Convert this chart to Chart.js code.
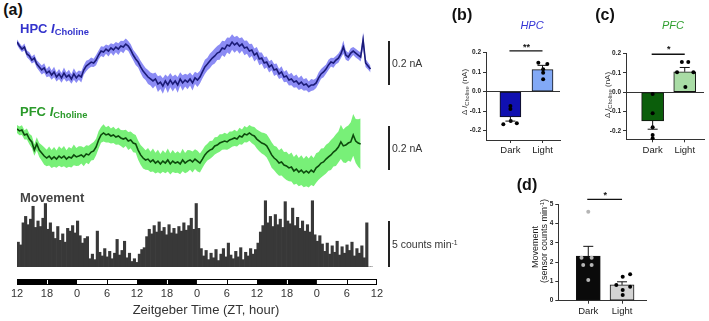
<!DOCTYPE html>
<html><head><meta charset="utf-8">
<script src="https://cdn.jsdelivr.net/npm/chart.js@4/dist/chart.umd.min.js"></script>
<style>
html,body{margin:0;padding:0;background:#fff;}
body{width:709px;height:321px;position:relative;overflow:hidden;font-family:"Liberation Sans",Arial,sans-serif;color:#222;}
canvas{position:absolute;}
.t{position:absolute;white-space:nowrap;line-height:1;}
.c{transform:translate(-50%,-50%);}
.l{transform:translateY(-50%);}
.r{transform:translate(-50%,-50%) rotate(-90deg);}
.pl{font-weight:bold;font-size:16px;color:#111;}
sub{font-size:0.72em;vertical-align:-0.25em;}
sup{font-size:0.65em;vertical-align:0.45em;}
</style></head><body>
<canvas id="hpc" width="383" height="85" style="left:17px;top:20px"></canvas>
<canvas id="pfc" width="383" height="95" style="left:17px;top:105px"></canvas>
<canvas id="mov" width="383" height="72" style="left:17px;top:195px"></canvas>
<canvas id="ld" width="380" height="20" style="left:5px;top:279px"></canvas>
<canvas id="pb" width="125" height="132" style="left:440px;top:30px"></canvas>
<canvas id="pc" width="133" height="132" style="left:575px;top:30px"></canvas>
<canvas id="pd" width="145" height="141" style="left:505px;top:180px"></canvas>

<div class="t pl c" style="left:13px;top:10px">(a)</div>
<div class="t l" style="left:20px;top:30px;color:#3333cc;font-weight:bold;font-size:13px">HPC <i>I</i><sub>Choline</sub></div>
<div class="t l" style="left:20px;top:113px;color:#2a9a2a;font-weight:bold;font-size:13px">PFC <i>I</i><sub>Choline</sub></div>
<div class="t l" style="left:20px;top:197px;color:#444;font-weight:bold;font-size:13px">Movement</div>
<div class="t l" style="left:392px;top:63px;font-size:10.5px;color:#333">0.2 nA</div>
<div class="t l" style="left:392px;top:148px;font-size:10.5px;color:#333">0.2 nA</div>
<div class="t l" style="left:392px;top:244px;font-size:10.5px;color:#333">5 counts min<sup>-1</sup></div>
<div class="t c" style="left:206px;top:309px;font-size:13px;color:#333">Zeitgeber Time (ZT, hour)</div>

<div class="t pl c" style="left:462px;top:15px">(b)</div>
<div class="t c" style="left:532px;top:25px;font-style:italic;font-size:11px;color:#3535d5">HPC</div>
<div class="t r" style="left:466px;top:92px;font-size:8px;color:#333">&Delta; <i>I</i><sub>Choline</sub> (nA)</div>
<div class="t pl c" style="left:605px;top:15px">(c)</div>
<div class="t c" style="left:673px;top:25px;font-style:italic;font-size:11px;color:#2e9e2e">PFC</div>
<div class="t r" style="left:609px;top:95px;font-size:8px;color:#333">&Delta; <i>I</i><sub>Choline</sub> (nA)</div>
<div class="t pl c" style="left:527px;top:185px">(d)</div>
<div class="t r" style="left:535px;top:247px;font-size:9px;color:#222">Movement</div>
<div class="t r" style="left:544px;top:241px;font-size:9px;color:#222">(sensor counts min<sup>-1</sup>)</div>

<script>
// ================= DATA =================
const sampleStepH = 0.5;                 // hours between trace samples
const ztTickLabels = ['12','18','0','6','12','18','0','6','12','18','0','6','12'];
const ldPhases = ['dark','dark','light','light','dark','dark','light','light','dark','dark','light','light'];
const ldSegmentHours = [6,6,6,6,6,6,6,6,6,6,6,6];

// HPC choline current (nA, relative), mean and SEM every 0.5 h
const hpcMean = [
.218,.200,.186,.195,.164,.155,.136,.145,.118,.105,
.091,.100,.077,.086,.068,.082,.059,.073,.055,.077,
.059,.068,.050,.073,.055,.068,.059,.091,.109,.118,
.127,.123,.136,.159,.177,.173,.186,.177,.191,.182,
.195,.186,.200,.195,.209,.200,.182,.159,.141,.127,
.105,.086,.073,.059,.050,.041,.050,.027,.036,.018,
.041,.023,.045,.027,.041,.023,.050,.032,.045,.036,
.050,.032,.055,.045,.059,.082,.105,.118,.132,.145,
.155,.168,.173,.191,.186,.205,.200,.218,.205,.214,
.200,.209,.191,.195,.177,.182,.159,.168,.141,.145,
.123,.127,.105,.114,.091,.095,.073,.082,.059,.064,
.045,.050,.036,.041,.027,.036,.023,.027,.014,.023,
.023,.032,.055,.073,.082,.095,.114,.127,.123,.136,
.145,.164,.195,.159,.150,.168,.177,.168,.159,.150,
.227,.123,.109,.095];
const hpcSem = [
.012,.014,.013,.016,.015,.017,.016,.018,.017,.019,
.020,.022,.019,.023,.021,.024,.020,.023,.022,.025,.021,.024,.022,.026,.023,.021,.025,.022,.024,.020,
.021,.019,.023,.020,.022,.024,.021,.025,.022,.026,.023,.027,.024,.028,.025,.023,.026,.024,.027,.025,
.028,.030,.027,.032,.029,.034,.030,.036,.031,.035,.029,.037,.032,.034,.030,.036,.031,.035,.029,.033,.030,.034,.028,.031,.029,
.030,.032,.029,.033,.031,.034,.032,.035,.033,.036,.034,.037,.035,.036,.033,.035,.031,.033,.030,.032,.028,.030,.027,.029,.026,
.027,.025,.026,.024,.027,.025,.023,.026,.024,.027,.025,.028,.026,.029,.027,.030,.026,.028,.025,.027,.024,.023,.025,.022,.024,
.021,.023,.020,.022,.019,.021,.020,.030,.021,.019,.022,.018,.020,.019,.021,.035,.018,.016,.015];

// PFC choline current (nA, relative), mean and SEM every 0.5 h
const pfcMean = [
.232,.223,.227,.205,.209,.186,.173,.136,.164,.136,
.123,.109,.100,.109,.095,.105,.095,.109,.100,.109,
.095,.105,.100,.114,.105,.109,.114,.105,.118,.114,
.127,.132,.150,.182,.205,.214,.205,.209,.200,.205,
.195,.200,.191,.186,.191,.177,.182,.168,.164,.136,
.114,.100,.091,.095,.082,.091,.077,.086,.073,.086,
.077,.091,.073,.086,.077,.082,.073,.091,.077,.086,
.091,.082,.095,.086,.077,.095,.114,.127,.136,.141,
.155,.159,.168,.173,.177,.173,.182,.186,.191,.186,
.200,.195,.209,.205,.214,.205,.200,.186,.177,.168,
.164,.155,.136,.114,.100,.091,.077,.082,.068,.064,
.055,.059,.041,.050,.036,.045,.032,.041,.032,.045,
.036,.055,.064,.077,.082,.095,.105,.114,.127,.136,
.150,.173,.155,.159,.168,.173,.205,.177,.168,.164];
const pfcSem = [
.018,.020,.022,.021,.025,.024,.028,.026,.030,.032,
.036,.040,.038,.043,.041,.045,.039,.044,.042,.046,.040,.045,.043,.047,.041,.044,.039,.043,.040,.042,
.038,.041,.037,.040,.036,.039,.035,.038,.034,.037,.035,.039,.036,.040,.037,.041,.038,.042,.040,.044,
.045,.048,.044,.050,.046,.052,.047,.051,.045,.049,.046,.052,.048,.050,.045,.049,.047,.051,.046,.050,.044,.048,.045,.047,.043,
.041,.040,.038,.041,.037,.039,.036,.040,.035,.038,.036,.039,.035,.037,.034,.038,.035,.037,.034,.036,.038,.041,.043,.046,.048,
.050,.053,.055,.058,.056,.060,.058,.062,.059,.064,.061,.066,.063,.067,.064,.068,.065,.069,.066,.068,.064,.067,.063,.066,.062,
.065,.063,.068,.066,.072,.070,.078,.075,.082,.080,.090,.095,.100,.108,.115];

// Movement (sensor counts per min), 0.5 h bins
const movement = [
2.7,2.4,4.8,5.5,4.6,5.2,6.6,4.3,5.0,4.4,
5.3,6.9,4.1,4.8,3.8,3.1,4.4,2.9,3.6,2.7,
4.2,3.9,4.5,3.7,5.0,3.4,2.6,3.1,3.3,0.9,
1.4,0.8,3.9,1.6,1.2,2.0,1.1,1.7,0.9,1.5,
3.0,1.3,1.8,2.8,1.0,1.5,0.6,0.9,0.5,1.4,
1.9,2.1,3.3,4.1,3.6,4.5,3.8,4.9,3.9,4.3,
3.5,4.6,3.7,4.2,3.6,4.4,3.9,4.8,4.0,4.5,
5.3,4.1,6.9,4.2,2.0,1.2,1.8,0.8,1.5,1.0,
1.9,0.7,1.4,2.0,1.1,2.6,1.3,0.9,1.7,1.1,
2.1,0.8,1.6,1.2,2.0,1.4,1.9,2.6,3.8,4.5,
7.2,4.8,5.5,4.4,5.7,4.6,5.2,4.3,7.1,5.0,
4.7,6.4,4.5,5.4,4.2,5.0,3.9,4.6,3.8,7.2,
3.5,2.8,3.4,2.5,1.7,2.6,1.4,2.3,1.6,2.8,
1.3,2.2,1.5,2.4,1.8,2.7,1.2,2.0,1.5,2.3,
1.0,4.8,0,0];

// Panels b, c, d
const groups = ['Dark','Light'];
const hpcBarMeans = [-0.130, 0.113];
const hpcBarSem   = [0.021, 0.022];
const hpcDarkPts  = [-0.167,-0.150,-0.162,-0.073,-0.089];
const hpcLightPts = [0.149,0.142,0.115,0.097,0.064];
const pfcBarMeans = [-0.148, 0.105];
const pfcBarSem   = [0.043, 0.022];
const pfcDarkPts  = [-0.010,-0.109,-0.181,-0.221,-0.238];
const pfcLightPts = [0.155,0.155,0.103,0.103,0.026];
const movBarMeans = [2.32, 0.82];
const movBarSem   = [0.50, 0.16];
const movDarkPts  = [4.62,2.23,2.23,1.85,1.85,1.07];
const movLightPts = [1.37,1.24,0.81,0.73,0.55,0.30];
const nAticks = [-0.2,-0.1,0.0,0.1,0.2];
const movTicks = [0,1,2,3,4,5];

// ================= CHARTS =================
Chart.defaults.font.family = '"Liberation Sans", Arial, sans-serif';
Chart.defaults.animation = false;
Chart.defaults.responsive = false;
Chart.defaults.events = [];
Chart.defaults.plugins.legend.display = false;
Chart.defaults.plugins.tooltip.enabled = false;

function scaleBar(from, span){
  return {id:'scalebar', afterDraw(chart){
    const {ctx, chartArea, scales:{y}} = chart;
    const x = chartArea.right + 16;
    ctx.save(); ctx.strokeStyle = '#222'; ctx.lineWidth = 2;
    ctx.beginPath(); ctx.moveTo(x, y.getPixelForValue(from)); ctx.lineTo(x, y.getPixelForValue(from+span)); ctx.stroke();
    ctx.restore();
  }};
}

function trace(id, mean, sem, yMin, yMax, lineColor, bandColor, barFrom){
  const pts = (f) => mean.map((m,i)=>({x:i*sampleStepH, y:f(m,i)}));
  new Chart(document.getElementById(id), {
    type:'line',
    data:{datasets:[
      {data:pts((m,i)=>m+sem[i]), borderColor:'rgba(0,0,0,0)', borderWidth:0, pointRadius:0, fill:'+1', backgroundColor:bandColor, tension:0, clip:false, order:2},
      {data:pts((m,i)=>m-sem[i]), borderColor:'rgba(0,0,0,0)', borderWidth:0, pointRadius:0, fill:false, tension:0, clip:false, order:3},
      {data:pts((m)=>m), borderColor:lineColor, borderWidth:1.6, pointRadius:0, fill:false, tension:0, clip:false, order:0}
    ]},
    options:{layout:{padding:{left:0,right:27,top:0,bottom:0}},
      scales:{x:{type:'linear',min:0,max:72,display:false}, y:{min:yMin,max:yMax,display:false}}},
    plugins:[scaleBar(barFrom, 0.2)]
  });
}
trace('hpc', hpcMean, hpcSem, -0.0682, 0.3182, '#1b1b78', 'rgba(100,100,240,0.75)', 0.0227);
trace('pfc', pfcMean, pfcSem, -0.0909, 0.3409, '#0d4a0d', 'rgba(105,238,105,0.9)', 0.0455);

new Chart(document.getElementById('mov'), {
  type:'bar',
  data:{labels: movement.map((_,i)=>i*sampleStepH), datasets:[{data:movement, backgroundColor:'#383838', borderWidth:0, barPercentage:1, categoryPercentage:1}]},
  options:{layout:{padding:{left:0,right:27,top:0,bottom:0}},
    scales:{x:{display:false}, y:{min:0,max:7.826,display:false}}},
  plugins:[{id:'sbm', afterDraw(chart){
    const {ctx, chartArea, scales:{y}} = chart; const x = chartArea.right + 16;
    ctx.save(); ctx.strokeStyle='#222'; ctx.lineWidth=2; ctx.beginPath();
    ctx.moveTo(x, y.getPixelForValue(0)); ctx.lineTo(x, y.getPixelForValue(5)); ctx.stroke(); ctx.restore();
  }}]
});

new Chart(document.getElementById('ld'), {
  type:'bar',
  data:{labels:['LD'], datasets: ldPhases.map((p,i)=>({data:[ldSegmentHours[i]],
      backgroundColor: p==='dark'?'#000':'#fff', borderWidth:0, borderSkipped:false, inflateAmount:0,
      barPercentage:1, categoryPercentage:1}))},
  options:{indexAxis:'y', layout:{padding:{left:12,right:7,top:0,bottom:0}},
    scales:{
      x:{type:'linear', stacked:true, min:0, max:72, position:'bottom',
         grid:{display:false, drawTicks:false}, border:{display:false},
         afterBuildTicks:(s)=>{ s.ticks = ztTickLabels.map((_,i)=>({value:i*6})); },
         ticks:{callback:(v,i)=>ztTickLabels[i], font:{size:11}, color:'#333', padding:2, autoSkip:false, maxRotation:0},
         afterFit:(s)=>{ s.height = 14; }},
      y:{stacked:true, display:false}
    }},
  plugins:[{id:'ldframe', afterDatasetsDraw(chart){
    const {ctx, chartArea:a, scales:{x}} = chart;
    ctx.save(); ctx.lineWidth = 1;
    let t = 0;
    ldSegmentHours.forEach((h,i)=>{
      t += h;
      if (i < ldPhases.length-1 && ldPhases[i+1] === ldPhases[i]) {
        const px = Math.round(x.getPixelForValue(t)) + 0.5;
        ctx.strokeStyle = ldPhases[i]==='dark' ? '#fff' : '#000';
        ctx.beginPath(); ctx.moveTo(px, a.top); ctx.lineTo(px, a.bottom); ctx.stroke();
      }
    });
    const x0 = Math.round(x.getPixelForValue(0)) + 0.5, x1 = Math.round(x.getPixelForValue(t)) - 0.5;
    ctx.strokeStyle = '#000';
    ctx.strokeRect(x0, Math.round(a.top)+0.5, x1-x0, Math.round(a.bottom-a.top)-1);
    ctx.restore();
  }}]
});

function panel(id, o){
  const darkSet = o.dark.map((v,j)=>({x:o.jit[0][j], y:v}));
  const lightSet = o.light.map((v,j)=>({x:1+o.jit[1][j], y:v}));
  new Chart(document.getElementById(id), {
    type:'bar',
    data:{datasets:[
      {type:'scatter', data:darkSet, backgroundColor:o.dotColors[0], borderColor:o.dotColors[0], pointRadius:2, borderWidth:0, clip:false, order:1},
      {type:'scatter', data:lightSet, backgroundColor:o.dotColors[1], borderColor:o.dotColors[1], pointRadius:2, borderWidth:0, clip:false, order:1},
      {type:'bar', data:o.means.map((m,i)=>({x:i,y:m})), backgroundColor:o.colors, borderColor:'#111', borderWidth:1, borderSkipped:false, barThickness:o.barW, order:2}
    ]},
    options:{layout:{padding:{top:o.padTop,right:o.padRight,left:0,bottom:0}},
      scales:{
        x:{type:'linear', min:o.xMin, max:o.xMax, offset:false,
           grid:{display:true, drawOnChartArea:false, offset:false, color:'#333', tickLength:3},
           border:{color:'#333', width:1},
           afterBuildTicks:(s)=>{ s.ticks = groups.map((_,i)=>({value:i})); },
           ticks:{callback:(v)=>groups[v], font:{size:9.5}, color:'#222', padding:2, autoSkip:false, maxRotation:0},
           afterFit:(s)=>{ s.height = o.xH; }},
        y:{min:o.yMin, max:o.yMax,
           grid:{display:true, color:(c)=> (o.zeroLine && c.tick && c.tick.value===0) ? '#333' : 'rgba(0,0,0,0)', tickColor:'#333', tickLength:3, lineWidth:1},
           border:{color:'#333', width:1},
           afterBuildTicks:(s)=>{ s.ticks = o.ticks.map(v=>({value:v})); },
           ticks:{callback:(v)=>o.fmt(v), font:{size:6.5, weight:'bold'}, color:'#222', padding:2, autoSkip:false},
           afterFit:(s)=>{ s.width = o.yW; }}
      }},
    plugins:[{id:'ann', afterDatasetsDraw(chart){
      const {ctx, scales:{x,y}} = chart;
      ctx.save(); ctx.strokeStyle='#111'; ctx.lineWidth=1;
      o.means.forEach((m,i)=>{
        const end = m + Math.sign(m)*o.sem[i];
        const px = x.getPixelForValue(i), py = y.getPixelForValue(end);
        ctx.beginPath(); ctx.moveTo(px, y.getPixelForValue(m)); ctx.lineTo(px, py);
        ctx.moveTo(px-5, py); ctx.lineTo(px+5, py); ctx.stroke();
      });
      ctx.lineWidth = 1.3;
      const sy = y.getPixelForValue(o.sigY);
      ctx.beginPath(); ctx.moveTo(x.getPixelForValue(-0.03), sy); ctx.lineTo(x.getPixelForValue(1.0), sy); ctx.stroke();
      ctx.fillStyle='#111'; ctx.font='bold 9px "Liberation Sans", Arial, sans-serif'; ctx.textAlign='center'; ctx.textBaseline='alphabetic';
      ctx.fillText(o.stars, x.getPixelForValue(0.5), y.getPixelForValue(o.starY) + 5);
      ctx.restore();
    }}]
  });
}

panel('pb', {means:hpcBarMeans, sem:hpcBarSem, dark:hpcDarkPts, light:hpcLightPts,
  jit:[[-0.22,0.01,0.2,0,0],[-0.13,0.15,0.02,0.02,0.02]],
  colors:['#1010b0','#82a9f6'], dotColors:['#000','#000'],
  xMin:-0.76, xMax:1.545, yMin:-0.248, yMax:0.2, ticks:nAticks, fmt:(v)=>v.toFixed(1),
  padTop:22.7, padRight:5, yW:46, xH:22, barW:21, zeroLine:true, sigY:0.209, starY:0.24, stars:'**'});

panel('pc', {means:pfcBarMeans, sem:pfcBarSem, dark:pfcDarkPts, light:pfcLightPts,
  jit:[[0,0,0,0,0],[-0.09,0.11,-0.24,0.27,0.02]],
  colors:['#0b5e0b','#a9dca5'], dotColors:['#000','#000'],
  xMin:-0.83, xMax:1.6, yMin:-0.243, yMax:0.2, ticks:nAticks, fmt:(v)=>v.toFixed(1),
  padTop:23.3, padRight:3, yW:51, xH:22.7, barW:22, zeroLine:true, sigY:0.195, starY:0.231, stars:'*'});

panel('pd', {means:movBarMeans, sem:movBarSem, dark:movDarkPts, light:movLightPts,
  jit:[[0,-0.2,0.1,-0.15,0.1,0],[0.24,0.02,-0.17,0.24,0.02,0.02]],
  colors:['#0a0a0a','#d3d3d3'], dotColors:['#b5b5b5','#000'],
  xMin:-0.888, xMax:1.71, yMin:0, yMax:5, ticks:movTicks, fmt:(v)=>String(v),
  padTop:24.3, padRight:3.3, yW:53.3, xH:20.3, barW:24, zeroLine:false, sigY:5.26, starY:5.6, stars:'*'});
</script>
</body></html>
